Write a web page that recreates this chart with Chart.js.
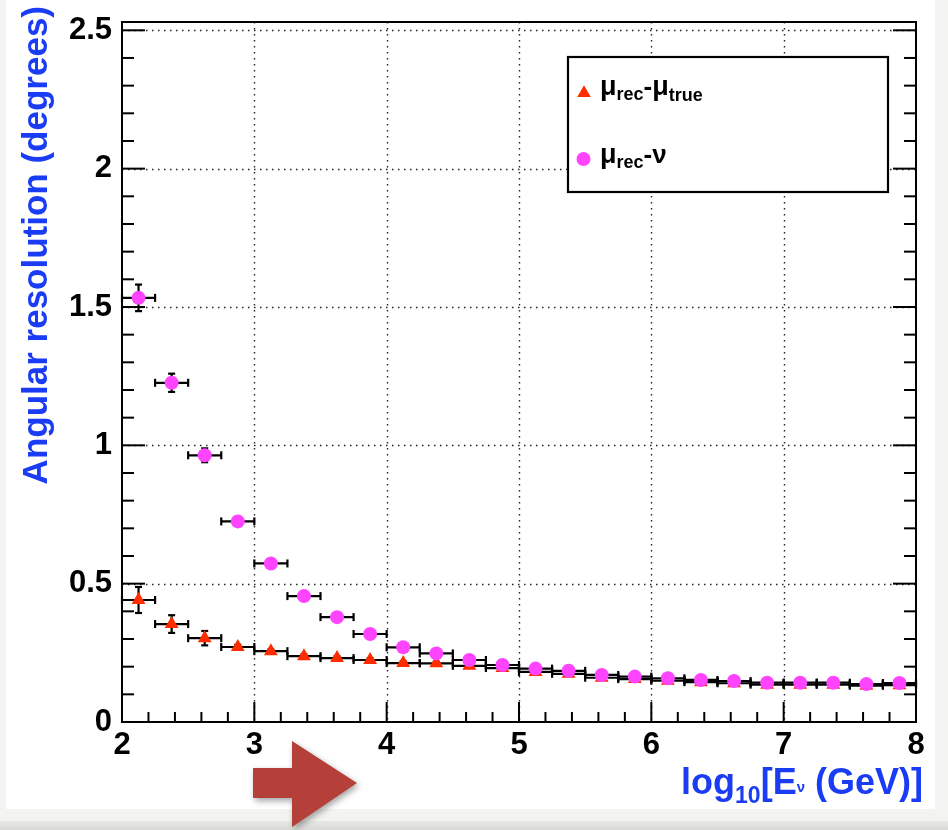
<!DOCTYPE html>
<html>
<head>
<meta charset="utf-8">
<script src="https://cdn.jsdelivr.net/npm/chart.js@4/dist/chart.umd.min.js"></script>
<style>
html,body{margin:0;padding:0;background:#f3f3f1;}
#wrap{position:relative;width:948px;height:830px;overflow:hidden;background:#f3f3f1;}
#panel{position:absolute;left:6px;top:0;width:929px;height:809px;background:#fff;}
#strip{position:absolute;left:0;top:821px;width:948px;height:9px;background:linear-gradient(#e8e8e6,#d9d9d7);}
#c{position:absolute;left:0;top:0;}
#arrow{position:absolute;left:253px;top:741px;width:106px;height:89px;filter:drop-shadow(2px 3px 3px rgba(0,0,0,0.35));}
#arrowShape{width:100%;height:100%;background:#b5403a;clip-path:polygon(0 27px,39px 27px,39px 0,104px 42px,39px 86px,39px 57px,0 57px);}
</style>
</head>
<body>
<div id="wrap">
  <div id="panel"></div>
  <div id="strip"></div>
  <canvas id="c" width="948" height="830"></canvas>
  <div id="arrow"><div id="arrowShape"></div></div>
</div>
<script>
// ---------------- data ----------------
const binCenters = [2.125,2.375,2.625,2.875,3.125,3.375,3.625,3.875,4.125,4.375,4.625,4.875,
                    5.125,5.375,5.625,5.875,6.125,6.375,6.625,6.875,7.125,7.375,7.625,7.875];
const binHalfWidth = 0.125;
// mu_rec - mu_true
const muRecMuTrue    = [0.441,0.354,0.303,0.271,0.256,0.238,0.231,0.224,0.213,0.212,0.203,0.195,
                        0.181,0.174,0.160,0.155,0.149,0.144,0.140,0.135,0.135,0.135,0.131,0.133];
const muRecMuTrueErr = [0.047,0.032,0.026,0.008,0.006,0.006,0.006,0.006,0.006,0.006,0.006,0.006,
                        0.005,0.005,0.005,0.005,0.005,0.005,0.005,0.005,0.005,0.005,0.005,0.005];
// mu_rec - nu
const muRecNu    = [1.533,1.226,0.964,0.725,0.573,0.455,0.379,0.318,0.270,0.248,0.224,0.206,
                    0.193,0.185,0.170,0.164,0.158,0.152,0.148,0.142,0.142,0.142,0.137,0.141];
const muRecNuErr = [0.048,0.033,0.025,0.012,0.010,0.008,0.007,0.006,0.006,0.006,0.006,0.006,
                    0.005,0.005,0.005,0.005,0.005,0.005,0.005,0.005,0.005,0.005,0.005,0.005];
// axes
const xTickValues = [2,3,4,5,6,7,8];
const xTickLabels = ['2','3','4','5','6','7','8'];
const yTickValues = [0,0.5,1,1.5,2,2.5];
const yTickLabels = ['0','0.5','1','1.5','2','2.5'];
const xRange = [2,8];
const yRange = [0,2.53];
const yTitle = 'Angular resolution (degrees)';
// rich text parts: [text, fontSize, baselineShift]
const xTitleParts = [['log',36,0],['10',23,9],['[E',36,0],['ν',15,-2],[' (GeV)]',36,0]];
const legendLabel1 = [['μ',27,0],['rec',18,5],['-',26,0],['μ',27,0],['true',18,6]];
const legendLabel2 = [['μ',27,0],['rec',18,5],['-',26,0],['ν',26,0]];

// ---------------- chart ----------------
const FONT = '"Liberation Sans", Arial, Helvetica, sans-serif';
const RED = '#ff2c00';
const PINK = '#ff44ff';
const BLUE = '#1a3cf5';

function mkData(vals, errs){
  return binCenters.map((x,i)=>({x:x, y:vals[i], ex:binHalfWidth, ey:errs[i]}));
}

function drawRich(ctx, parts, x, y, align){
  let total = 0;
  const ws = parts.map(p=>{ctx.font = 'bold '+p[1]+'px '+FONT; const w = ctx.measureText(p[0]).width; total += w; return w;});
  let cx = align==='right' ? x-total : x;
  ctx.textAlign='left'; ctx.textBaseline='alphabetic';
  parts.forEach((p,i)=>{ctx.font='bold '+p[1]+'px '+FONT; ctx.fillText(p[0], cx, y+p[2]); cx += ws[i];});
}

function seg(ctx,x1,y1,x2,y2){ctx.beginPath();ctx.moveTo(x1,y1);ctx.lineTo(x2,y2);ctx.stroke();}

const rootStyle = {
  id:'rootStyle',
  beforeDatasetsDraw(chart){
    const ctx = chart.ctx, ca = chart.chartArea, xs = chart.scales.x, ys = chart.scales.y;
    ctx.save();
    // dotted grid
    ctx.strokeStyle = '#222'; ctx.lineWidth = 1.4; ctx.setLineDash([1.5,4.5]);
    xTickValues.forEach(v=>{ if(v===xRange[0]||v===xRange[1]) return;
      const px = Math.round(xs.getPixelForValue(v))+0.5; seg(ctx,px,ca.top,px,ca.bottom); });
    yTickValues.forEach(v=>{ if(v===yRange[0]) return;
      const py = Math.round(ys.getPixelForValue(v))+0.5; seg(ctx,ca.left,py,ca.right,py); });
    ctx.setLineDash([]);
    // error bars
    ctx.strokeStyle = '#000'; ctx.lineWidth = 2.2;
    const capH = 4, capV = 3.5;
    chart.data.datasets.slice().reverse().forEach(ds=>{
      ds.data.forEach(p=>{
        const cx = xs.getPixelForValue(p.x), cy = ys.getPixelForValue(p.y);
        const xl = xs.getPixelForValue(p.x-p.ex), xr = xs.getPixelForValue(p.x+p.ex);
        const yt = ys.getPixelForValue(p.y+p.ey), yb = ys.getPixelForValue(p.y-p.ey);
        seg(ctx,xl,cy,xr,cy);
        seg(ctx,xl,cy-capH,xl,cy+capH);
        seg(ctx,xr,cy-capH,xr,cy+capH);
        seg(ctx,cx,yt,cx,yb);
        seg(ctx,cx-capV,yt,cx+capV,yt);
        seg(ctx,cx-capV,yb,cx+capV,yb);
      });
    });
    ctx.restore();
  },
  afterDatasetsDraw(chart){
    const ctx = chart.ctx, ca = chart.chartArea, xs = chart.scales.x, ys = chart.scales.y;
    ctx.save();
    ctx.strokeStyle = '#000'; ctx.lineWidth = 2;
    // x ticks (bottom, inward)
    for(let k=0;k<=30;k++){
      const v = xRange[0]+k*0.2; const major = (k%5===0);
      const px = xs.getPixelForValue(v);
      seg(ctx,px,ca.bottom,px,ca.bottom-(major?20:10));
    }
    // y ticks (left and right, inward)
    for(let k=0;k<=25;k++){
      const v = k*0.1; const major = (k%5===0);
      const py = ys.getPixelForValue(v); const len = major?23:12;
      seg(ctx,ca.left,py,ca.left+len,py);
      seg(ctx,ca.right,py,ca.right-len,py);
    }
    // frame
    ctx.strokeRect(ca.left, ca.top, ca.right-ca.left, ca.bottom-ca.top);
    ctx.restore();
  },
  afterDraw(chart){
    const ctx = chart.ctx, ca = chart.chartArea;
    ctx.save();
    // legend box
    const lx = ca.left+446, ly = ca.top+35, lw = 320, lh = 135;
    ctx.fillStyle = '#fff'; ctx.fillRect(lx,ly,lw,lh);
    ctx.strokeStyle = '#000'; ctx.lineWidth = 2.2; ctx.strokeRect(lx,ly,lw,lh);
    // legend markers
    ctx.fillStyle = RED;
    const tx = lx+16, ty = ly+36, r = 7.8;
    ctx.beginPath();
    ctx.moveTo(tx, ty-r); ctx.lineTo(tx+r*0.866, ty+r/2); ctx.lineTo(tx-r*0.866, ty+r/2); ctx.closePath(); ctx.fill();
    ctx.fillStyle = PINK;
    ctx.beginPath(); ctx.arc(lx+15.5, ly+102, 7, 0, Math.PI*2); ctx.fill();
    // legend labels
    ctx.fillStyle = '#000';
    drawRich(ctx, legendLabel1, lx+32, ly+38, 'left');
    drawRich(ctx, legendLabel2, lx+32, ly+106, 'left');
    // axis titles
    ctx.fillStyle = BLUE;
    drawRich(ctx, xTitleParts, 923, 794, 'right');
    ctx.translate(47, 6); ctx.rotate(-Math.PI/2);
    ctx.font = 'bold 35px '+FONT; ctx.textAlign='right'; ctx.textBaseline='alphabetic';
    ctx.fillText(yTitle, 0, 0);
    ctx.restore();
  }
};

new Chart(document.getElementById('c'), {
  type:'scatter',
  data:{
    datasets:[
      {label:'μrec-ν', data:mkData(muRecNu, muRecNuErr), pointStyle:'circle', pointRadius:7,
       backgroundColor:PINK, borderWidth:0, order:1},
      {label:'μrec-μtrue', data:mkData(muRecMuTrue, muRecMuTrueErr), pointStyle:'triangle', pointRadius:8,
       backgroundColor:RED, borderWidth:0, order:2}
    ]
  },
  options:{
    responsive:false, animation:false, devicePixelRatio:1,
    layout:{padding:{top:22,right:32,left:0,bottom:0}},
    plugins:{legend:{display:false}, tooltip:{enabled:false}},
    elements:{point:{hoverRadius:7}},
    scales:{
      x:{type:'linear', min:xRange[0], max:xRange[1],
         afterBuildTicks:s=>{s.ticks = xTickValues.map(v=>({value:v}));},
         afterFit:s=>{s.height=108; s.paddingLeft=0; s.paddingRight=0;},
         grid:{display:false, drawTicks:false}, border:{display:false},
         ticks:{color:'#000', padding:5, maxRotation:0, autoSkip:false,
                font:{family:FONT, size:31, weight:'bold'},
                callback:(v,i)=>xTickLabels[i]}},
      y:{type:'linear', min:yRange[0], max:yRange[1],
         afterBuildTicks:s=>{s.ticks = yTickValues.map(v=>({value:v}));},
         afterFit:s=>{s.width=122; s.paddingTop=0; s.paddingBottom=0;},
         grid:{display:false, drawTicks:false}, border:{display:false},
         ticks:{color:'#000', padding:10, autoSkip:false,
                font:{family:FONT, size:31, weight:'bold'},
                callback:(v,i)=>yTickLabels[i]}}
    }
  },
  plugins:[rootStyle]
});
</script>
</body>
</html>
